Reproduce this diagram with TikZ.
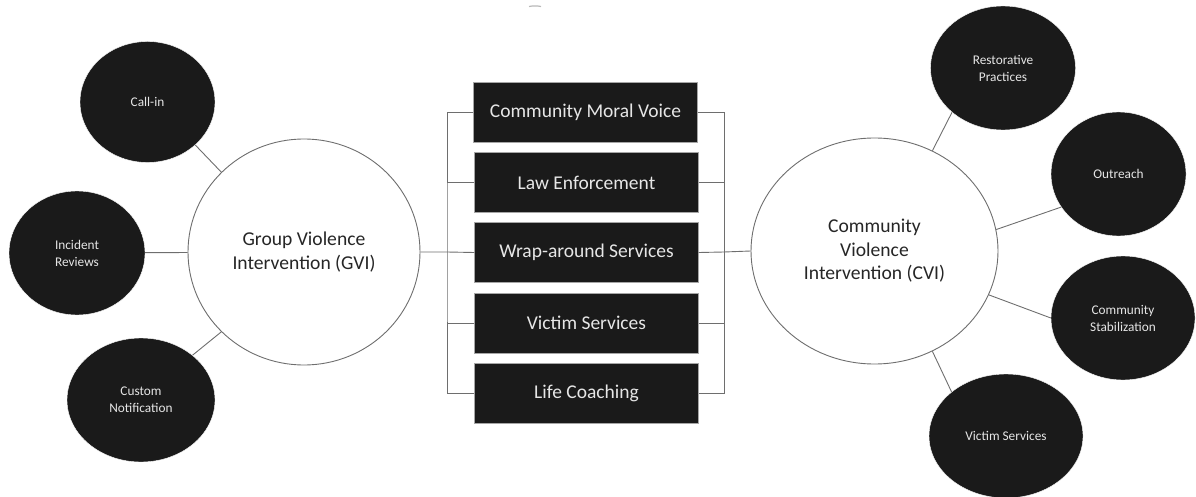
\documentclass[tikz,border=0pt]{standalone}
\usepackage{fontspec}
\setmainfont{Carlito}
\usetikzlibrary{shapes.geometric}
\definecolor{nodeblack}{HTML}{1A1A1A}
\definecolor{nodetext}{HTML}{E6E6E6}
\definecolor{edgegray}{HTML}{6E6E6E}

\begin{document}
\begin{tikzpicture}[x = 1pt, y = -1pt,
  hub/.style = {draw = edgegray, fill = white, shape = ellipse, line width = 0.9pt, align = center, font = \fontsize{19.6}{23.5}\selectfont, text = black!85},
  spoke/.style = {draw = white, fill = nodeblack, shape = ellipse, minimum height = 124pt, align = center, font = \fontsize{13.3}{17}\selectfont, text = nodetext},
  part/.style = {draw = gray!70, fill = nodeblack, minimum width = 224pt, minimum height = 60pt, font = \fontsize{19.5}{22}\selectfont, text = nodetext},
  link/.style = {draw = edgegray, line width = 0.9pt}]

\useasboundingbox (0, 0) rectangle (1196, 497);

\node [part] (part0) at (585.5, 112) {Community Moral Voice};
\node [part] (part1) at (586.5, 182.5) {Law Enforcement};
\node [part] (part2) at (586.5, 252.5) {Wrap-around Services};
\node [part] (part3) at (586.5, 323) {Victim Services};
\node [part] (part4) at (586.5, 393) {Life Coaching};

\node [hub, minimum width = 232pt, minimum height = 226pt] (gvi) at (304, 252) {Group Violence\\Intervention (GVI)};
\node [spoke, minimum width = 135pt, minimum height = 121pt] (gvi0) at (147.5, 102) {Call-in};
\node [spoke, minimum width = 136pt] (gvi1) at (77, 253) {Incident\\Reviews};
\node [spoke, minimum width = 148pt] (gvi2) at (141, 400) {Custom\\Notification};

\node [hub, minimum width = 247pt, minimum height = 226pt] (cvi) at (874.5, 251) {Community\\Violence\\Intervention (CVI)};
\node [spoke, minimum width = 145pt] (cvi0) at (1003, 68) {Restorative\\Practices};
\node [spoke, minimum width = 135pt] (cvi1) at (1118.5, 174) {Outreach};
\node [spoke, minimum width = 144pt] (cvi2) at (1123, 318) {Community\\Stabilization};
\node [spoke, minimum width = 154pt] (cvi3) at (1006, 436) {Victim Services};

\coordinate (lbar) at (447, 252);
\coordinate (rbar) at (724, 252);

\path [link] (gvi0.-42) -- (gvi.136);
\path [link] (gvi1) -- (gvi);
\path [link] (gvi2.41) -- (gvi.224);

\path [link] (cvi0.221) -- (cvi.60);
\path [link] (cvi1.210) -- (cvi.10);
\path [link] (cvi2.180) -- (cvi.-21);
\path [link] (cvi3.141) -- (cvi.-60);

\path [link] (part0.west) -| (lbar) |- (part4.west);
\path [link] (part1.west) -- (part1.west -| lbar);
\path [link] (part2.west) -- (lbar) -- (gvi.east);
\path [link] (part3.west) -- (part3.west -| lbar);

\path [link] (part0.east) -| (rbar) |- (part4.east);
\path [link] (part1.east) -- (part1.east -| rbar);
\path [link] (part2.east) -- (rbar) -- (cvi.west);
\path [link] (part3.east) -- (part3.east -| rbar);

\path [draw, gray!55, line width = 1.2pt] (529, 6.5) to [bend left = 10] (541, 6.5);
\end{tikzpicture}
\end{document}
